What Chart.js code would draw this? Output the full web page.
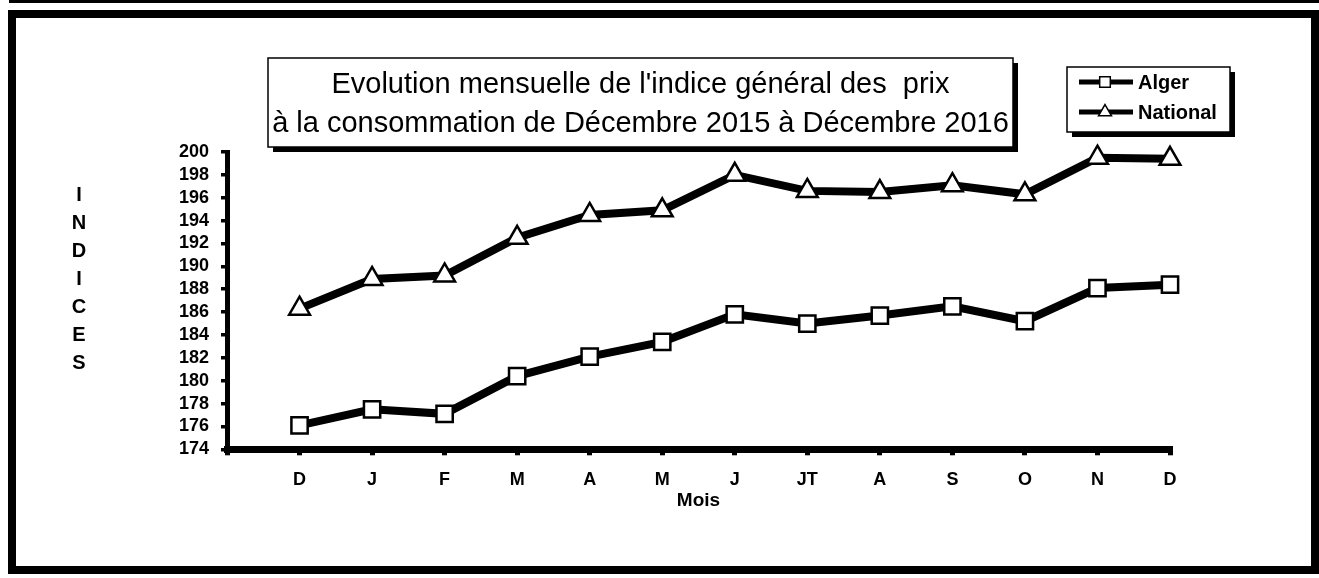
<!DOCTYPE html>
<html>
<head>
<meta charset="utf-8">
<script src="https://cdn.jsdelivr.net/npm/chart.js@4/dist/chart.umd.min.js"></script>
<style>
  html, body { margin: 0; padding: 0; background: #fff; }
  #wrap { width: 1319px; height: 578px; position: relative; }
</style>
</head>
<body>
<div id="wrap"><canvas id="ipcChart" width="1319" height="578"></canvas></div>
<script>
// mois (Dec 2015 -> Dec 2016)
const months = ["D", "J", "F", "M", "A", "M", "J", "JT", "A", "S", "O", "N", "D"];
const alger = [176.1, 177.5, 177.1, 180.4, 182.1, 183.4, 185.8, 185.0, 185.7, 186.5, 185.2, 188.1, 188.4];
const national = [186.3, 188.9, 189.2, 192.5, 194.5, 194.9, 198.0, 196.6, 196.5, 197.1, 196.3, 199.5, 199.4];
const yTicks = { min: 174, max: 200, step: 2 };
const titleLines = ["Evolution mensuelle de l'indice général des  prix", "à la consommation de Décembre 2015 à Décembre 2016"];
const yTitle = "INDICES";
const xTitle = "Mois";

const FONT = "'Liberation Sans', Arial, Helvetica, sans-serif";

function toPoints(values) {
  return values.map(function(v, i) { return { x: i, y: v }; });
}

function shadowBox(ctx, x, y, w, h) {
  ctx.fillStyle = "#000";
  ctx.fillRect(x + 5, y + 5, w, h);
  ctx.fillStyle = "#fff";
  ctx.fillRect(x, y, w, h);
  ctx.strokeStyle = "#000";
  ctx.lineWidth = 1.5;
  ctx.strokeRect(x, y, w, h);
}

const decorations = {
  id: "decorations",
  beforeDraw(chart) {
    const ctx = chart.ctx;
    ctx.save();
    ctx.fillStyle = "#fff";
    ctx.fillRect(0, 0, chart.width, chart.height);
    // top rule + outer frame
    ctx.fillStyle = "#000";
    ctx.fillRect(9, 0, chart.width - 9, 3);
    ctx.strokeStyle = "#000";
    ctx.lineWidth = 8;
    ctx.strokeRect(12, 14, 1303, 556);
    ctx.restore();
  },
  afterDraw(chart) {
    const ctx = chart.ctx;
    ctx.save();

    // title box
    shadowBox(ctx, 268, 58, 745, 89);
    ctx.fillStyle = "#000";
    ctx.font = "29px " + FONT;
    ctx.textAlign = "center";
    ctx.textBaseline = "alphabetic";
    ctx.fillText(titleLines[0], 640.5, 93);
    ctx.fillText(titleLines[1], 640.5, 131.5);

    // vertical y title
    ctx.font = "bold 20px " + FONT;
    ctx.textBaseline = "middle";
    yTitle.split("").forEach(function(ch, i) {
      ctx.fillText(ch, 79, 195 + i * 28);
    });

    // legend
    shadowBox(ctx, 1067, 67, 163, 65);
    const rows = [82, 112];
    chart.data.datasets.forEach(function(ds, i) {
      const y = rows[i];
      ctx.strokeStyle = "#000";
      ctx.lineWidth = 5;
      ctx.beginPath();
      ctx.moveTo(1079, y);
      ctx.lineTo(1133, y);
      ctx.stroke();
      ctx.fillStyle = "#fff";
      ctx.lineWidth = 1.5;
      Chart.helpers.drawPoint(ctx, { pointStyle: ds.pointStyle, radius: 7.5, borderWidth: 1.5 }, 1105, y);
      ctx.fillStyle = "#000";
      ctx.font = "bold 20px " + FONT;
      ctx.textAlign = "left";
      ctx.textBaseline = "middle";
      ctx.fillText(ds.label, 1138, y + 1);
    });
    ctx.restore();
  }
};

new Chart(document.getElementById("ipcChart"), {
  type: "line",
  data: {
    datasets: [
      {
        label: "Alger",
        data: toPoints(alger),
        borderColor: "#000",
        borderWidth: 8,
        pointStyle: "rect",
        pointRadius: 11.5,
        pointBackgroundColor: "#fff",
        pointBorderColor: "#000",
        pointBorderWidth: 2.5,
        tension: 0,
        clip: false
      },
      {
        label: "National",
        data: toPoints(national),
        borderColor: "#000",
        borderWidth: 8,
        pointStyle: "triangle",
        pointRadius: 12,
        pointBackgroundColor: "#fff",
        pointBorderColor: "#000",
        pointBorderWidth: 2.5,
        tension: 0,
        clip: false
      }
    ]
  },
  options: {
    responsive: false,
    animation: false,
    events: [],
    layout: { padding: { top: 152, right: 149, left: 0, bottom: 0 } },
    plugins: {
      legend: { display: false },
      tooltip: { enabled: false },
      title: { display: false }
    },
    scales: {
      x: {
        type: "linear",
        min: -1,
        max: months.length - 1,
        afterFit: function(scale) { scale.height = 128.7; },
        ticks: {
          stepSize: 1,
          autoSkip: false,
          maxRotation: 0,
          padding: 14,
          color: "#000",
          font: { family: FONT, size: 18, weight: "bold" },
          callback: function(v) { return months[v] !== undefined ? months[v] : ""; }
        },
        grid: { drawOnChartArea: false, drawTicks: true, tickLength: 6, lineWidth: 5, color: "#000" },
        border: { display: true, color: "#000", width: 7 },
        title: {
          display: true,
          text: xTitle,
          color: "#000",
          font: { family: FONT, size: 19, weight: "bold" },
          padding: { top: 0, bottom: 66 }
        }
      },
      y: {
        min: yTicks.min,
        max: yTicks.max,
        afterFit: function(scale) { scale.width = 227; },
        ticks: {
          stepSize: yTicks.step,
          autoSkip: false,
          padding: 12,
          color: "#000",
          font: { family: FONT, size: 18, weight: "bold" }
        },
        grid: { drawOnChartArea: false, drawTicks: true, tickLength: 6, lineWidth: 3.5, color: "#000" },
        border: { display: true, color: "#000", width: 5 }
      }
    }
  },
  plugins: [decorations]
});
</script>
</body>
</html>
